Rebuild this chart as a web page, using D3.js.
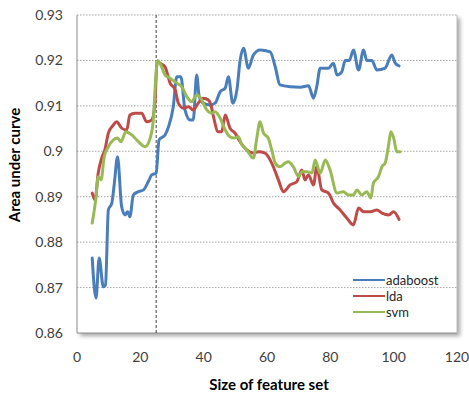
<!DOCTYPE html>
<html><head><meta charset="utf-8">
<script src="https://cdn.jsdelivr.net/npm/d3@7"></script>
<style>body{margin:0;background:#fff}svg{display:block}text{font-family:Lato,"Open Sans",sans-serif}</style>
</head><body><svg id="c" width="469" height="396"></svg>
<script>
const xTicks = [0,20,40,60,80,100,120];
const yTicks = [0.86,0.87,0.88,0.89,0.90,0.91,0.92,0.93];
const yTickLabels = ["0.86","0.87","0.88","0.89","0.9","0.91","0.92","0.93"];
const seriesNames = ["adaboost","lda","svm"];
const markerX = 25;

const adaboost = [[4.8,0.8765],[6.0,0.8677],[7.0,0.8765],[8.3,0.8702],[9.0,0.8706],[9.9,0.8871],[11.0,0.8886],[11.8,0.893],[12.8,0.8988],[14.1,0.8878],[15.2,0.886],[16.0,0.8867],[16.7,0.8856],[17.8,0.8904],[19.4,0.8911],[21.0,0.8915],[22.5,0.8933],[23.6,0.8948],[25.0,0.8952],[25.9,0.9025],[27.8,0.9036],[28.9,0.9054],[30.4,0.9098],[31.5,0.9164],[32.8,0.9164],[34.1,0.9091],[35.7,0.9069],[36.7,0.9069],[37.8,0.9168],[38.6,0.912],[39.9,0.9106],[42.0,0.9102],[43.6,0.9106],[45.2,0.9131],[46.8,0.9139],[47.8,0.9164],[49.2,0.9106],[50.5,0.9135],[51.5,0.92],[52.6,0.9227],[54.1,0.9183],[55.7,0.9212],[57.8,0.9223],[61.0,0.9219],[62.6,0.9186],[64.1,0.9146],[67.3,0.9142],[70.5,0.9141],[73.1,0.9144],[74.7,0.9117],[75.7,0.9142],[76.8,0.9183],[79.4,0.9183],[81.0,0.9194],[82.1,0.9168],[83.6,0.9175],[84.7,0.92],[86.0,0.92],[87.3,0.9223],[88.9,0.9179],[90.5,0.9223],[91.5,0.92],[93.1,0.92],[94.7,0.9179],[97.3,0.9183],[99.4,0.9212],[100.5,0.9194],[101.7,0.9188]];

const lda = [[4.8,0.8908],[5.7,0.8893],[6.7,0.8952],[7.8,0.8985],[8.8,0.9003],[9.9,0.904],[11.5,0.9058],[12.5,0.9065],[14.1,0.9051],[15.7,0.9047],[16.7,0.908],[18.3,0.9084],[20.4,0.9084],[22.0,0.9065],[23.6,0.9069],[24.6,0.9106],[25.3,0.9197],[26.2,0.9194],[27.8,0.9186],[29.4,0.915],[31.0,0.9135],[32.0,0.9106],[33.6,0.9095],[35.2,0.9098],[36.7,0.9091],[38.3,0.9106],[39.9,0.9117],[41.5,0.9113],[42.3,0.9102],[43.1,0.9076],[44.6,0.9043],[45.7,0.9043],[46.8,0.908],[48.3,0.9051],[49.9,0.9040],[51.5,0.9021],[53.6,0.9003],[55.7,0.8996],[57.3,0.8999],[59.4,0.8996],[60.4,0.8988],[62.0,0.8966],[63.6,0.8937],[65.2,0.8911],[67.3,0.8926],[69.4,0.8933],[71.0,0.8959],[72.0,0.8937],[73.1,0.8948],[74.7,0.8926],[75.7,0.8966],[77.3,0.8915],[79.4,0.8908],[81.0,0.8886],[83.1,0.8871],[85.2,0.8853],[87.3,0.8838],[88.9,0.8875],[90.5,0.8867],[92.6,0.8867],[94.7,0.8871],[96.3,0.8864],[98.4,0.886],[100.0,0.8867],[101.7,0.885]];

const svm = [[4.8,0.8842],[5.9,0.8893],[6.7,0.8944],[7.6,0.8937],[8.6,0.8988],[9.9,0.901],[11.5,0.9025],[12.8,0.9029],[13.9,0.9021],[15.4,0.9043],[17.3,0.9036],[19.4,0.9021],[21.5,0.901],[23.1,0.9029],[24.1,0.9069],[24.9,0.9164],[25.5,0.92],[26.2,0.9194],[27.8,0.9168],[29.4,0.9161],[31.5,0.915],[33.1,0.9142],[34.7,0.912],[36.2,0.9109],[37.8,0.9124],[39.4,0.9113],[40.4,0.9098],[41.0,0.9091],[42.5,0.9084],[43.6,0.9087],[45.2,0.9073],[46.8,0.9047],[48.3,0.9032],[49.6,0.9029],[51.0,0.9032],[51.8,0.9018],[53.6,0.9003],[55.7,0.8985],[56.8,0.9030],[57.8,0.9065],[58.9,0.904],[60.4,0.9029],[61.5,0.9003],[62.6,0.8974],[64.1,0.8966],[65.7,0.8974],[66.7,0.8977],[68.3,0.8966],[70.0,0.8944],[71.0,0.8955],[72.6,0.8955],[74.2,0.8952],[75.2,0.8981],[76.8,0.8952],[78.4,0.8981],[79.9,0.8959],[82.1,0.8908],[84.1,0.8911],[85.7,0.8904],[87.3,0.8904],[88.4,0.8915],[89.9,0.8904],[91.5,0.8911],[92.8,0.8897],[93.6,0.893],[95.2,0.8944],[96.3,0.8966],[97.3,0.8974],[98.4,0.9014],[99.1,0.9043],[100.0,0.9029],[101.0,0.8999],[102.0,0.8999]];

const svg = d3.select("#c");
const L = 77, R = 457, T = 15, B = 333;
const x = d3.scaleLinear().domain([0,120]).range([L,R]);
const y = d3.scaleLinear().domain([0.86,0.93]).range([B,T]);
const colors = {adaboost:"#4A7EBB", lda:"#BE4B48", svm:"#98B954"};

const defs = svg.append("defs");
const f = defs.append("filter").attr("id","sh").attr("x","-5%").attr("y","-5%").attr("width","115%").attr("height","115%");
f.append("feDropShadow").attr("dx",3).attr("dy",3).attr("stdDeviation",2).attr("flood-color","#000").attr("flood-opacity",0.35);

svg.append("rect").attr("x",L).attr("y",T).attr("width",R-L).attr("height",B-T)
  .attr("fill","#fff").attr("filter","url(#sh)");

svg.append("g").selectAll("line").data(yTicks.slice(1)).join("line")
  .attr("x1",L).attr("x2",R).attr("y1",d=>y(d)).attr("y2",d=>y(d))
  .attr("stroke","#a6a6a6").attr("stroke-width",1).attr("stroke-dasharray","1.5,1.5");

svg.append("line").attr("x1",L).attr("x2",L).attr("y1",T).attr("y2",B).attr("stroke","#8c8c8c");
svg.append("line").attr("x1",L).attr("x2",R).attr("y1",B).attr("y2",B).attr("stroke","#8c8c8c");
svg.append("line").attr("x1",R).attr("x2",R).attr("y1",T).attr("y2",B).attr("stroke","#bdbdbd");

svg.append("line").attr("x1",x(markerX)).attr("x2",x(markerX)).attr("y1",T).attr("y2",B)
  .attr("stroke","#404040").attr("stroke-width",1).attr("stroke-dasharray","3,2");

svg.append("g").selectAll("text").data(yTicks).join("text")
  .attr("x",63).attr("y",d=>y(d)+5).attr("text-anchor","end")
  .attr("font-size",14).attr("fill","#404040").text((d,i)=>yTickLabels[i]);
svg.append("g").selectAll("text").data(xTicks).join("text")
  .attr("x",d=>x(d)).attr("y",362).attr("text-anchor","middle")
  .attr("font-size",14).attr("fill","#404040").text(d=>d);

svg.append("text").attr("x",269).attr("y",390).attr("text-anchor","middle")
  .attr("font-size",15).attr("font-weight","bold").attr("fill","#000").text("Size of feature set");
svg.append("text").attr("transform","translate(20,165) rotate(-90)").attr("text-anchor","middle")
  .attr("font-size",15).attr("font-weight","bold").attr("fill","#000").text("Area under curve");

const line = d3.line().x(d=>x(d[0])).y(d=>y(d[1])).curve(d3.curveMonotoneX);
const data = {adaboost, lda, svm};
seriesNames.forEach(n=>{
  svg.append("path").datum(data[n]).attr("d",line).attr("fill","none")
    .attr("stroke",colors[n]).attr("stroke-width",3).attr("stroke-linejoin","round").attr("stroke-linecap","round");
});

const lg = svg.append("g");
seriesNames.forEach((n,i)=>{
  const yy = 280 + i*16;
  lg.append("line").attr("x1",353).attr("x2",385).attr("y1",yy).attr("y2",yy).attr("stroke",colors[n]).attr("stroke-width",2);
  lg.append("text").attr("x",386).attr("y",yy+4.5).attr("font-size",13).attr("fill","#262626").text(n);
});
</script></body></html>
